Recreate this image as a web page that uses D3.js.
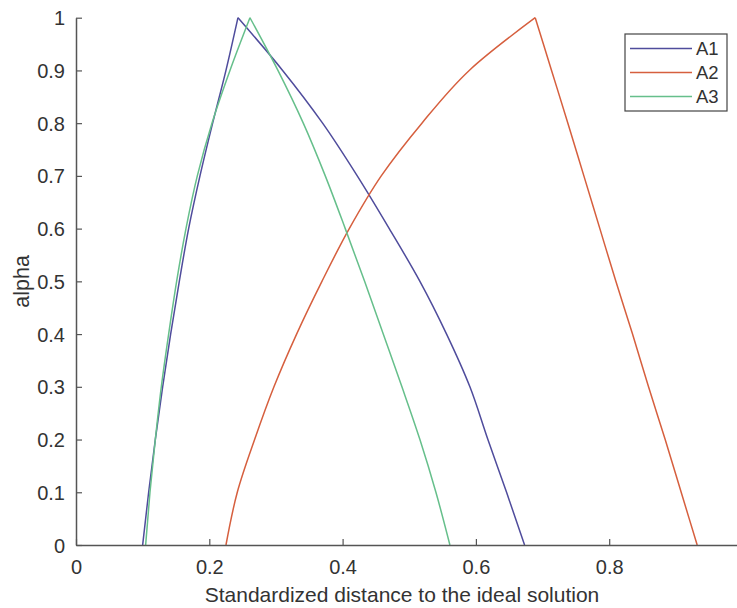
<!DOCTYPE html>
<html>
<head>
<meta charset="utf-8">
<script src="https://cdnjs.cloudflare.com/ajax/libs/d3/7.8.5/d3.min.js"></script>
<style>
  body { margin:0; background:#fff; }
  svg text { font-family: "Liberation Sans", Arial, sans-serif; fill:#333; }
</style>
</head>
<body>
<div id="chart"></div>
<script>
// alpha cut levels, shared by every series
var alphaLevels = [0, 0.1, 0.2, 0.3, 0.4, 0.5, 0.6, 0.7, 0.8, 0.9, 1];

// left (rising) and right (falling) bound of each alpha cut
var a1Left  = [0.100, 0.109, 0.119, 0.130, 0.142, 0.155, 0.169, 0.186, 0.205, 0.225, 0.243];
var a1Right = [0.673, 0.646, 0.618, 0.591, 0.556, 0.516, 0.470, 0.422, 0.370, 0.310, 0.243];
var a2Left  = [0.225, 0.242, 0.268, 0.297, 0.331, 0.369, 0.410, 0.458, 0.519, 0.590, 0.689];
var a2Right = [0.932, 0.908, 0.884, 0.859, 0.835, 0.810, 0.786, 0.762, 0.738, 0.7135, 0.689];
var a3Left  = [0.1045, 0.111, 0.119, 0.128, 0.139, 0.151, 0.165, 0.182, 0.204, 0.231, 0.261];
var a3Right = [0.561, 0.540, 0.516, 0.489, 0.461, 0.433, 0.404, 0.374, 0.341, 0.303, 0.261];

var seriesNames = ["A1", "A2", "A3"];
var seriesColors = ["#4f4c9c", "#d65f3e", "#66bf8b"];

var xTicks = [0, 0.2, 0.4, 0.6, 0.8];
var yTicks = [0, 0.1, 0.2, 0.3, 0.4, 0.5, 0.6, 0.7, 0.8, 0.9, 1];

var W = 737, H = 608;
var svg = d3.select("#chart").append("svg")
  .attr("width", W).attr("height", H);

var x = d3.scaleLinear().domain([0, 1]).range([76, 742.5]);
var y = d3.scaleLinear().domain([0, 1]).range([545, 17.7]);

function branch(xs) {
  return alphaLevels.map(function(a, i){ return [xs[i], a]; });
}
var branches = [[a1Left, a1Right], [a2Left, a2Right], [a3Left, a3Right]];

var line = d3.line()
  .x(function(d){ return x(d[0]); })
  .y(function(d){ return y(d[1]); })
  .curve(d3.curveMonotoneY);

// each branch is its own path so the peak stays sharp
branches.forEach(function(b, i){
  b.forEach(function(xs){
    svg.append("path")
      .attr("d", line(branch(xs)))
      .attr("fill", "none")
      .attr("stroke", seriesColors[i])
      .attr("stroke-width", 1.5);
  });
});

// axes, ticks pointing inward
var axisColor = "#555";
var xAxis = svg.append("g").attr("transform", "translate(0," + y(0) + ")")
  .call(d3.axisBottom(x).tickValues(xTicks).tickSizeInner(-6).tickSizeOuter(0).tickPadding(15)
        .tickFormat(function(d){ return d === 0 ? "0" : d3.format(".1f")(d); }));
var yAxis = svg.append("g").attr("transform", "translate(" + x(0) + ",0)")
  .call(d3.axisLeft(y).tickValues(yTicks).tickSizeInner(-6).tickSizeOuter(0).tickPadding(11)
        .tickFormat(function(d){ return (d === 0 || d === 1) ? String(d) : d3.format(".1f")(d); }));

[xAxis, yAxis].forEach(function(g){
  g.select(".domain").attr("stroke", axisColor).attr("stroke-width", 1.5);
  g.selectAll(".tick line").attr("stroke", axisColor).attr("stroke-width", 1.2);
  g.selectAll(".tick text").attr("font-size", 20).attr("fill", "#333")
    .attr("font-family", "Liberation Sans, Arial, sans-serif");
});
yAxis.selectAll(".tick text").attr("dy", "0.35em");

// axis labels
svg.append("text")
  .attr("x", 402).attr("y", 602)
  .attr("text-anchor", "middle")
  .attr("font-size", 21)
  .text("Standardized distance to the ideal solution");

svg.append("text")
  .attr("transform", "translate(29," + y(0.5) + ") rotate(-90)")
  .attr("text-anchor", "middle")
  .attr("font-size", 21.5)
  .text("alpha");

// legend
var legend = svg.append("g");
legend.append("rect")
  .attr("x", 625).attr("y", 34).attr("width", 102).attr("height", 77)
  .attr("fill", "#fff").attr("stroke", "#444").attr("stroke-width", 1.2);
var rowY = [48.5, 72.5, 96.5];
seriesNames.forEach(function(n, i){
  legend.append("line")
    .attr("x1", 630).attr("x2", 692)
    .attr("y1", rowY[i]).attr("y2", rowY[i])
    .attr("stroke", seriesColors[i]).attr("stroke-width", 1.5);
  legend.append("text")
    .attr("x", 696).attr("y", rowY[i]).attr("dy", "0.35em")
    .attr("font-size", 18.5)
    .text(n);
});
</script>
</body>
</html>
